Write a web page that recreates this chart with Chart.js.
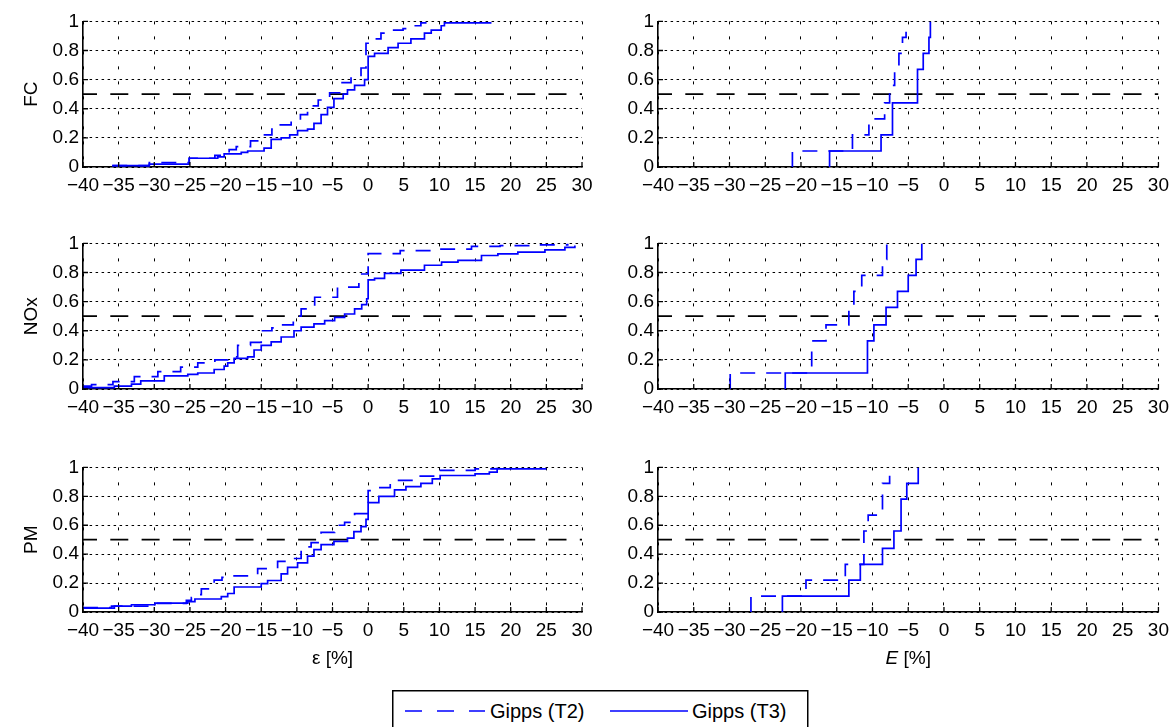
<!DOCTYPE html>
<html>
<head>
<meta charset="utf-8">
<script src="https://cdn.jsdelivr.net/npm/chart.js@4.4.1/dist/chart.umd.min.js"></script>
<style>
  html, body { margin: 0; padding: 0; background: #fff; width: 1176px; height: 727px; overflow: hidden; }
  body { position: relative; font-family: "Liberation Sans", Arial, sans-serif; }
  canvas { position: absolute; }
  #legend { position: absolute; left: 392px; top: 690px; }
</style>
</head>
<body>
<canvas id="fcEps"  width="600" height="191" style="left:0;top:6px"></canvas>
<canvas id="fcE"    width="586" height="191" style="left:590px;top:6px"></canvas>
<canvas id="noxEps" width="600" height="191" style="left:0;top:228px"></canvas>
<canvas id="noxE"   width="586" height="191" style="left:590px;top:228px"></canvas>
<canvas id="pmEps"  width="600" height="218" style="left:0;top:452px"></canvas>
<canvas id="pmE"    width="586" height="218" style="left:590px;top:452px"></canvas>

<svg id="legend" width="417" height="37">
  <rect x="0.75" y="0.75" width="415" height="60" fill="#fff" stroke="#000" stroke-width="1.5"/>
  <line x1="13" y1="21" x2="93" y2="21" stroke="#0000ff" stroke-width="1.7" stroke-dasharray="17 15"/>
  <text x="98" y="28" font-family="Liberation Sans, Arial, sans-serif" font-size="20" fill="#000">Gipps (T2)</text>
  <line x1="218" y1="21" x2="296" y2="21" stroke="#0000ff" stroke-width="1.7"/>
  <text x="300" y="28" font-family="Liberation Sans, Arial, sans-serif" font-size="20" fill="#000">Gipps (T3)</text>
</svg>

<script>
// ---- axis ticks and labels ----
const xTickValues = [-40, -35, -30, -25, -20, -15, -10, -5, 0, 5, 10, 15, 20, 25, 30];
const yTickValues = [0, 0.2, 0.4, 0.6, 0.8, 1];
const rowLabels = ['FC', 'NOx', 'PM'];
const medianLevel = 0.5;

// ---- empirical CDFs of the relative error ε [%] (left column) ----
const fcEpsT2X = [-35.9, -30.7, -25.1, -21.5, -19.5, -18.5, -16.5, -15.5, -13.5, -12.5, -10.8, -9.5, -8.5, -7.0, -5.4, -4.0, -2.4, -1.0, -0.3, 0.5, 1.8, 3.2, 4.9, 5.6, 7.4, 8.5];
const fcEpsT2Y = [0.01, 0.03, 0.06, 0.08, 0.12, 0.14, 0.18, 0.22, 0.26, 0.29, 0.32, 0.36, 0.42, 0.46, 0.51, 0.58, 0.62, 0.68, 0.85, 0.88, 0.92, 0.94, 0.95, 0.97, 0.99, 1.0];
const fcEpsT3X = [-35.9, -30.7, -25.1, -21.1, -20.2, -17.8, -16.9, -14.6, -13.6, -12.2, -11.0, -9.9, -8.5, -7.6, -6.6, -5.7, -4.8, -3.5, -2.9, -1.9, -0.5, 0, 0.9, 2.8, 4.2, 6.0, 7.9, 8.85, 10.25, 10.7, 17.3];
const fcEpsT3Y = [0.01, 0.02, 0.06, 0.07, 0.09, 0.10, 0.11, 0.13, 0.19, 0.20, 0.22, 0.25, 0.26, 0.30, 0.36, 0.41, 0.47, 0.50, 0.53, 0.56, 0.60, 0.76, 0.78, 0.82, 0.85, 0.88, 0.92, 0.94, 0.97, 0.99, 0.99];

const noxEpsT2X = [-40, -38.8, -35.8, -32.8, -29.5, -26.3, -23.9, -21.5, -19.7, -18.3, -16.5, -15.0, -13.5, -12.2, -10.5, -9.4, -7.5, -4.3, -1.3, 0, 4.5, 10.0, 14.5, 18.5, 23.5, 28.0];
const noxEpsT2Y = [0.02, 0.03, 0.05, 0.085, 0.12, 0.15, 0.18, 0.20, 0.22, 0.30, 0.32, 0.40, 0.42, 0.44, 0.50, 0.55, 0.63, 0.70, 0.79, 0.93, 0.95, 0.96, 0.98, 0.985, 0.99, 1.0];
const noxEpsT3X = [-40, -35.6, -33.2, -31.9, -28.6, -25.3, -23.9, -21.6, -20.2, -19.7, -18.8, -16.9, -16.0, -15.0, -13.6, -12.2, -10.4, -9.4, -7.6, -6.1, -4.7, -3.3, -1.9, -0.9, -0.2, 0, 0.9, 2.3, 4.6, 7.9, 10.3, 12.6, 15.9, 18.2, 21.0, 24.8, 27.6, 29.0];
const noxEpsT3Y = [0.01, 0.02, 0.034, 0.056, 0.09, 0.10, 0.11, 0.134, 0.157, 0.18, 0.21, 0.22, 0.268, 0.30, 0.324, 0.357, 0.40, 0.425, 0.447, 0.47, 0.492, 0.515, 0.55, 0.58, 0.62, 0.75, 0.76, 0.794, 0.817, 0.85, 0.872, 0.884, 0.917, 0.928, 0.94, 0.955, 0.973, 0.985];

const pmEpsT2X = [-40, -36, -30, -25.5, -24.8, -24.2, -23.4, -21.6, -20.5, -18.8, -15.5, -12.7, -11.3, -9.4, -8.0, -6.6, -4.7, -4.2, -3.3, -1.9, 0, 1.0, 3.1, 6.3, 9.5, 15, 18];
const pmEpsT2Y = [0.03, 0.04, 0.06, 0.08, 0.10, 0.12, 0.16, 0.22, 0.24, 0.25, 0.30, 0.35, 0.37, 0.45, 0.48, 0.55, 0.57, 0.60, 0.62, 0.68, 0.84, 0.86, 0.91, 0.94, 0.98, 0.99, 1.0];
const pmEpsT3X = [-40, -35.6, -33.2, -29.9, -25.3, -24.3, -20.6, -19.7, -18.8, -15.0, -14.1, -12.2, -11.3, -9.9, -8.5, -7.6, -6.6, -4.8, -2.9, -2.0, -1.0, -0.3, 0, 1.5, 3.7, 5.3, 7.4, 9.0, 10.1, 15.0, 17.0, 18.1, 25.0];
const pmEpsT3Y = [0.027, 0.04, 0.05, 0.061, 0.072, 0.09, 0.106, 0.128, 0.173, 0.196, 0.218, 0.264, 0.309, 0.34, 0.387, 0.432, 0.466, 0.489, 0.511, 0.556, 0.59, 0.64, 0.756, 0.80, 0.845, 0.867, 0.89, 0.92, 0.944, 0.955, 0.967, 0.99, 0.99];

// ---- empirical CDFs of the aggregate error E [%] (right column) ----
const fcET2X = [-21.2, -12.8, -10.5, -8.3, -7.6, -6.9, -6.3, -5.8, -5.3];
const fcET2Y = [0.11, 0.22, 0.33, 0.44, 0.56, 0.67, 0.78, 0.89, 1.0];
const fcET3X = [-16.0, -8.8, -7.2, -3.7, -2.9, -2.1, -1.9];
const fcET3Y = [0.11, 0.22, 0.44, 0.67, 0.78, 0.89, 1.0];

const noxET2X = [-29.9, -18.5, -16.5, -13.3, -12.6, -11.5, -8.6, -8.0];
const noxET2Y = [0.11, 0.33, 0.44, 0.56, 0.67, 0.78, 0.89, 1.0];
const noxET3X = [-22.2, -10.7, -9.8, -8.1, -6.5, -5.0, -3.9, -3.1];
const noxET3Y = [0.11, 0.33, 0.44, 0.56, 0.67, 0.78, 0.89, 1.0];

const pmET2X = [-27.0, -19.3, -13.8, -11.2, -10.6, -8.6, -7.6];
const pmET2Y = [0.11, 0.22, 0.33, 0.56, 0.67, 0.89, 1.0];
const pmET3X = [-22.6, -13.3, -11.7, -8.6, -7.0, -6.0, -5.2, -3.6];
const pmET3Y = [0.11, 0.22, 0.33, 0.44, 0.56, 0.78, 0.89, 1.0];

// ---- drawing ----
const FONT = '"Liberation Sans", Arial, sans-serif';
const TICK_SIZE = 19;
Chart.defaults.font.family = FONT;
Chart.defaults.color = '#000';

const BLUE = '#0000ff';

function points(xs, ys, fromZero) {
  const d = xs.map((x, i) => ({ x: x, y: ys[i] }));
  if (fromZero) d.unshift({ x: xs[0], y: 0 });
  return d;
}

function fmtX(v) { return v < 0 ? '\u2212' + Math.abs(v) : String(v); }
function fmtY(v) { return String(Number(v.toFixed(1))); }

// inward tick marks on the left and bottom axes
const innerTicks = {
  id: 'innerTicks',
  afterDatasetsDraw(chart) {
    const { ctx, chartArea: a, scales: { x, y } } = chart;
    ctx.save();
    ctx.strokeStyle = '#000';
    ctx.lineWidth = 1.3;
    ctx.setLineDash([]);
    ctx.beginPath();
    x.ticks.forEach(t => {
      const px = x.getPixelForValue(t.value);
      ctx.moveTo(px, a.bottom); ctx.lineTo(px, a.bottom - 5);
    });
    y.ticks.forEach(t => {
      const py = y.getPixelForValue(t.value);
      ctx.moveTo(a.left, py); ctx.lineTo(a.left + 5, py);
    });
    ctx.stroke();
    ctx.restore();
  }
};

// x-axis caption with mixed upright / italic parts
const caption = {
  id: 'caption',
  afterDraw(chart, args, opts) {
    if (!opts || !opts.parts) return;
    const { ctx, chartArea: a } = chart;
    const size = opts.size || 18;
    ctx.save();
    ctx.fillStyle = '#000';
    ctx.textBaseline = 'middle';
    let total = 0;
    const widths = opts.parts.map(p => {
      ctx.font = (p.italic ? 'italic ' : '') + size + 'px ' + FONT;
      const w = ctx.measureText(p.text).width;
      total += w;
      return w;
    });
    let x0 = (a.left + a.right) / 2 - total / 2;
    const yc = a.bottom + opts.offset;
    opts.parts.forEach((p, i) => {
      ctx.font = (p.italic ? 'italic ' : '') + size + 'px ' + FONT;
      ctx.fillText(p.text, x0, yc);
      x0 += widths[i];
    });
    ctx.restore();
  }
};

function panel(id, t2, t3, cfg) {
  const datasets = [
    { label: 'Gipps (T2)', data: t2, borderColor: BLUE, borderWidth: 1.7, borderDash: [15, 11],
      stepped: true, showLine: true, pointRadius: 0, fill: false },
    { label: 'Gipps (T3)', data: t3, borderColor: BLUE, borderWidth: 1.7,
      stepped: true, showLine: true, pointRadius: 0, fill: false },
    { label: 'median', data: [{ x: xTickValues[0], y: medianLevel }, { x: xTickValues[xTickValues.length - 1], y: medianLevel }],
      borderColor: '#000', borderWidth: 1.8, borderDash: [18, 13.3], borderDashOffset: 4,
      showLine: true, pointRadius: 0, fill: false }
  ];
  new Chart(document.getElementById(id), {
    type: 'scatter',
    data: { datasets: datasets },
    plugins: [innerTicks, caption],
    options: {
      responsive: false,
      animation: false,
      devicePixelRatio: 1,
      layout: { padding: { top: 12, right: cfg.padRight, bottom: 0, left: 0 } },
      plugins: {
        legend: { display: false },
        tooltip: { enabled: false },
        caption: cfg.caption || {}
      },
      scales: {
        x: {
          type: 'linear',
          min: xTickValues[0], max: xTickValues[xTickValues.length - 1],
          afterBuildTicks: s => { s.ticks = xTickValues.map(v => ({ value: v })); },
          afterFit: s => { s.height = cfg.xHeight; },
          ticks: { callback: v => fmtX(v), font: { size: TICK_SIZE }, color: '#000', padding: 7,
                   autoSkip: false, maxRotation: 0, minRotation: 0 },
          grid: { color: '#000', lineWidth: 1, drawTicks: false },
          border: { display: true, color: '#000', width: 1.6, dash: [3, 12] }
        },
        y: {
          type: 'linear',
          min: 0, max: 1,
          afterBuildTicks: s => { s.ticks = yTickValues.map(v => ({ value: v })); },
          afterFit: s => { s.width = cfg.yWidth; },
          ticks: { callback: v => fmtY(v), font: { size: TICK_SIZE }, color: '#000', padding: 4 },
          grid: { color: '#000', lineWidth: 1, drawTicks: false },
          border: { display: true, color: '#000', width: 1.6, dash: [2.5, 3.5] },
          title: cfg.yTitle ? { display: true, text: cfg.yTitle, font: { size: TICK_SIZE }, color: '#000',
                                padding: { top: 20, bottom: 0 } } : { display: false }
        }
      }
    }
  });
}

const leftCol  = { padRight: 18, yWidth: 83, xHeight: 30 };
const rightCol = { padRight: 15, yWidth: 68, xHeight: 30 };
const epsCaption = { parts: [{ text: '\u03b5' }, { text: ' [%]' }], size: 19, offset: 47 };
const eCaption   = { parts: [{ text: 'E', italic: true }, { text: ' [%]' }], size: 19, offset: 47 };

panel('fcEps', points(fcEpsT2X, fcEpsT2Y, false), points(fcEpsT3X, fcEpsT3Y, false),
      Object.assign({}, leftCol, { yTitle: rowLabels[0] }));
panel('fcE', points(fcET2X, fcET2Y, true), points(fcET3X, fcET3Y, true), rightCol);

panel('noxEps', points(noxEpsT2X, noxEpsT2Y, false), points(noxEpsT3X, noxEpsT3Y, false),
      Object.assign({}, leftCol, { yTitle: rowLabels[1] }));
panel('noxE', points(noxET2X, noxET2Y, true), points(noxET3X, noxET3Y, true), rightCol);

panel('pmEps', points(pmEpsT2X, pmEpsT2Y, false), points(pmEpsT3X, pmEpsT3Y, false),
      Object.assign({}, leftCol, { yTitle: rowLabels[2], xHeight: 58, caption: epsCaption }));
panel('pmE', points(pmET2X, pmET2Y, true), points(pmET3X, pmET3Y, true),
      Object.assign({}, rightCol, { xHeight: 58, caption: eCaption }));
</script>
</body>
</html>
